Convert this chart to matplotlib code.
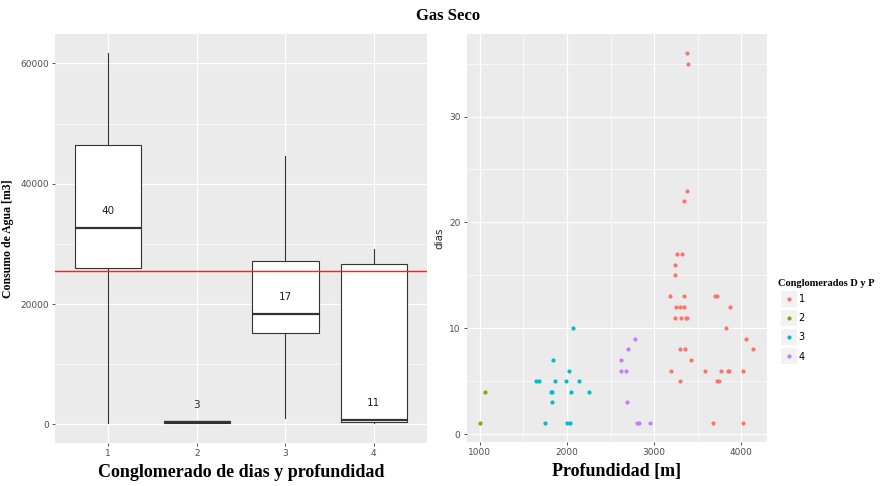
import numpy as np
import matplotlib.pyplot as plt
from matplotlib.lines import Line2D
from matplotlib.legend_handler import HandlerTuple

# Datos del boxplot (estadisticos)
grupos = [1, 2, 3, 4]
whis_lo = [300, 250, 1100, 200]
q1 = [26000, 250, 15250, 450]
mediana = [32650, 380, 18300, 650]
q3 = [46450, 500, 27100, 26600]
whis_hi = [61800, 500, 44600, 29200]
n_obs = [40, 3, 17, 11]
promedio = 25450

# Datos del scatter: profundidad [m] y dias por conglomerado
prof_1 = [3378, 3389, 3374, 3347, 3263, 3321, 3244, 3244, 3183, 3340, 3252, 3298, 3344,
          3244, 3313, 3363, 3378, 3302, 3351, 3424, 3191, 3294, 3580, 3676, 3702, 3718,
          3718, 3748, 3767, 3824, 3847, 3863, 3870, 4015, 4015, 4050, 4134]
dias_1 = [36, 35, 23, 22, 17, 17, 16, 15, 13, 13, 12, 12, 12,
          11, 11, 11, 11, 8, 8, 7, 6, 5, 6, 1, 13, 13,
          5, 5, 6, 10, 6, 6, 12, 6, 1, 9, 8]
prof_2 = [1008, 1065]
dias_2 = [1, 4]
prof_3 = [1645, 1683, 1744, 1821, 1832, 1828, 1840, 1863, 1992, 2000, 2038, 2027,
          2046, 2069, 2137, 2252]
dias_3 = [5, 5, 1, 4, 4, 3, 7, 5, 5, 1, 1, 6, 4, 10, 5, 4]
prof_4 = [2618, 2618, 2672, 2687, 2702, 2782, 2805, 2828, 2954]
dias_4 = [7, 6, 6, 3, 8, 9, 1, 1, 1]

colores = ['#F8766D', '#7CAE00', '#00BFC4', '#C77CFF']
serif = ['Liberation Serif', 'DejaVu Serif']

fig = plt.figure(figsize=(8.86, 4.86), dpi=100)
W, H = 886, 486


def estilo_gg(ax):
    ax.set_facecolor('#EBEBEB')
    for s in ax.spines.values():
        s.set_visible(False)
    ax.grid(True, which='major', color='white', linewidth=0.9)
    ax.grid(True, which='minor', color='white', linewidth=0.45)
    ax.set_axisbelow(True)
    ax.tick_params(which='major', length=2.5, width=0.6, color='#333333',
                   labelsize=6.5, labelcolor='#4D4D4D', pad=2)
    ax.tick_params(which='minor', length=0)


# Panel izquierdo: boxplot
ax1 = fig.add_axes([55 / W, (H - 443) / H, 372 / W, 409 / H])
estilo_gg(ax1)
stats = []
for i in range(len(grupos)):
    stats.append(dict(whislo=whis_lo[i], q1=q1[i], med=mediana[i], q3=q3[i],
                      whishi=whis_hi[i], fliers=[]))
ax1.bxp(stats, positions=grupos, widths=0.75, patch_artist=True, showcaps=False,
        boxprops=dict(facecolor='white', edgecolor='#333333', linewidth=0.8),
        whiskerprops=dict(color='#333333', linewidth=0.8),
        medianprops=dict(color='#333333', linewidth=1.6))
ax1.axhline(promedio, color='#E8282B', linewidth=1.0, zorder=5)
for g, m, n in zip(grupos, mediana, n_obs):
    ax1.text(g, m + 2900, str(n), ha='center', va='center', fontsize=7.5, color='#222222')
ax1.set_xlim(0.4, 4.6)
ax1.set_ylim(-3090, 64890)
ax1.set_xticks(grupos)
ax1.set_yticks([0, 20000, 40000, 60000])
ax1.set_yticks([10000, 30000, 50000], minor=True)
ax1.set_xlabel('Conglomerado de dias y profundidad', family=serif, fontweight='bold',
               fontsize=13, labelpad=4)
ax1.set_ylabel('Consumo de Agua [m3]', family=serif, fontweight='bold', fontsize=8.5,
               labelpad=4)

# Panel derecho: scatter
ax2 = fig.add_axes([466.7 / W, (H - 442) / H, 300 / W, 408 / H])
estilo_gg(ax2)
series = [(prof_1, dias_1), (prof_2, dias_2), (prof_3, dias_3), (prof_4, dias_4)]
for (x, y), c in zip(series, colores):
    ax2.scatter(x, y, s=9, color=c, linewidths=0)
ax2.set_xlim(852, 4290)
ax2.set_ylim(-0.75, 37.8)
ax2.set_xticks([1000, 2000, 3000, 4000])
ax2.set_xticks([1500, 2500, 3500], minor=True)
ax2.set_yticks([0, 10, 20, 30])
ax2.set_yticks([5, 15, 25, 35], minor=True)
ax2.set_xlabel('Profundidad [m]', family=serif, fontweight='bold', fontsize=13, labelpad=4)
ax2.set_ylabel('dias', fontsize=7.5, color='#222222', labelpad=3)

# Leyenda: fondo gris en cada clave, como ggplot
handles = []
for c in colores:
    fondo = Line2D([], [], marker='s', linestyle='', markersize=12, color='#F2F2F2',
                   markeredgewidth=0)
    punto = Line2D([], [], marker='o', linestyle='', markersize=3, color=c,
                   markeredgewidth=0)
    handles.append((fondo, punto))
fig.text(778 / W, 1 - 284 / H, 'Conglomerados D y P', family=serif, fontweight='bold',
         fontsize=7.5, ha='left', va='center')
fig.legend(handles, ['1', '2', '3', '4'], loc='upper left',
           bbox_to_anchor=(783 / W, (H - 294) / H), frameon=False, fontsize=7,
           handlelength=1.2, handletextpad=0.4, labelspacing=0.95, borderaxespad=0,
           borderpad=0, handler_map={tuple: HandlerTuple(ndivide=1)})

fig.text(448 / W, 1 - 16 / H, 'Gas Seco', ha='center', va='center', family=serif,
         fontweight='bold', fontsize=12)

fig.savefig('out.png', dpi=100)
